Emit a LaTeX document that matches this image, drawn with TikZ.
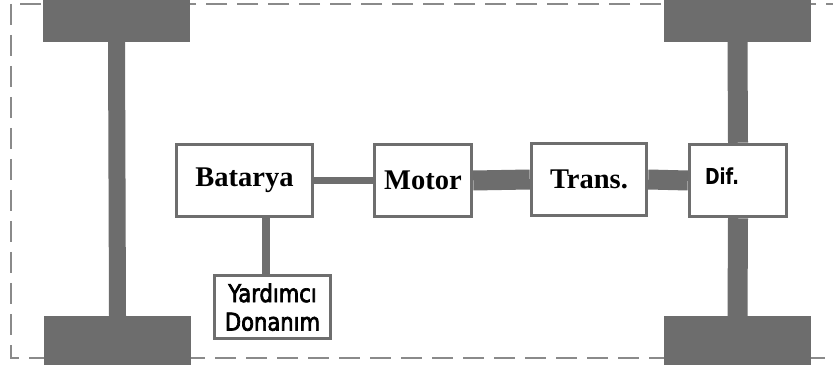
\documentclass[tikz,border=0pt]{standalone}
\usepackage{fontspec}
\setmainfont{Liberation Serif}
\newfontfamily\djsans[FakeStretch=0.8]{DejaVu Sans}
\newfontfamily\djsemi[FakeStretch=0.86, FakeBold=2.8]{DejaVu Sans}
\definecolor{wheelgray}{HTML}{6D6D6D}
\definecolor{linegray}{HTML}{6E6E6E}
\definecolor{dashgray}{HTML}{8A8A8A}
\tikzset{
  wheel/.style={fill=wheelgray, draw=none, minimum width=147pt, inner sep=0pt},
  blockbox/.style={draw=linegray, line width=3.5pt, fill=white, inner sep=0pt,
    font=\fontsize{28.5}{30}\selectfont\bfseries},
  thinlink/.style={draw=linegray, line width=7pt},
  thicklink/.style={draw=wheelgray, line width=20pt},
  axle/.style={draw=wheelgray},
  frame/.style={draw=dashgray, line width=2pt, dash pattern=on 21pt off 10pt}
}
\begin{document}
\begin{tikzpicture}[x=1pt,y=-1pt]
\clip (0,0) rectangle (833,374);
\fill[white] (0,0) rectangle (833,374);
% dashed frame
\draw[frame] (11,4) rectangle (850,358);
% wheels
\node[wheel, minimum height=52pt] (tlw) at (116.5,16) {};
\node[wheel, minimum height=49pt] (blw) at (117.5,340.5) {};
\node[wheel, minimum height=52pt] (trw) at (737.5,16) {};
\node[wheel, minimum height=49pt] (brw) at (737.5,340.5) {};
% left axle
\draw[axle, line width=17pt] (tlw.south) -- (blw.north);
% blocks
\node[blockbox, minimum width=136pt, minimum height=72pt] (bat) at (244.5,180.5) {Batarya};
\node[blockbox, minimum width=97pt, minimum height=72pt] (mot) at (423,180.5) {Motor};
\node[blockbox, minimum width=115pt, minimum height=72pt] (tra) at (589,179.5) {Trans.};
\node[blockbox, minimum width=97pt, minimum height=72pt, font=\djsans\fontsize{22}{24}\selectfont\bfseries,
  text width=66pt, align=left, text depth=8pt] (dif) at (738,180.5) {Dif.};
\node[blockbox, minimum width=116pt, minimum height=63pt, font=\djsemi\fontsize{24.5}{28.5}\selectfont,
  align=center, text depth=0pt] (yrd) at (272.5,307) {Yard\i mc\i\\Donan\i m};
% right axle through differential
\draw[axle, line width=20pt] (trw.south) -- (dif.north);
\draw[axle, line width=20pt] (dif.south) -- (brw.north);
% links
\draw[thinlink] (bat.east) -- (mot.west);
\draw[thicklink] (mot.east) -- (tra.west);
\draw[thicklink] (tra.east) -- (dif.west);
\coordinate (yl) at (266,250);
\draw[thinlink, line width=8pt] (bat.south -| yl) -- (yrd.north -| yl);
\end{tikzpicture}
\end{document}
